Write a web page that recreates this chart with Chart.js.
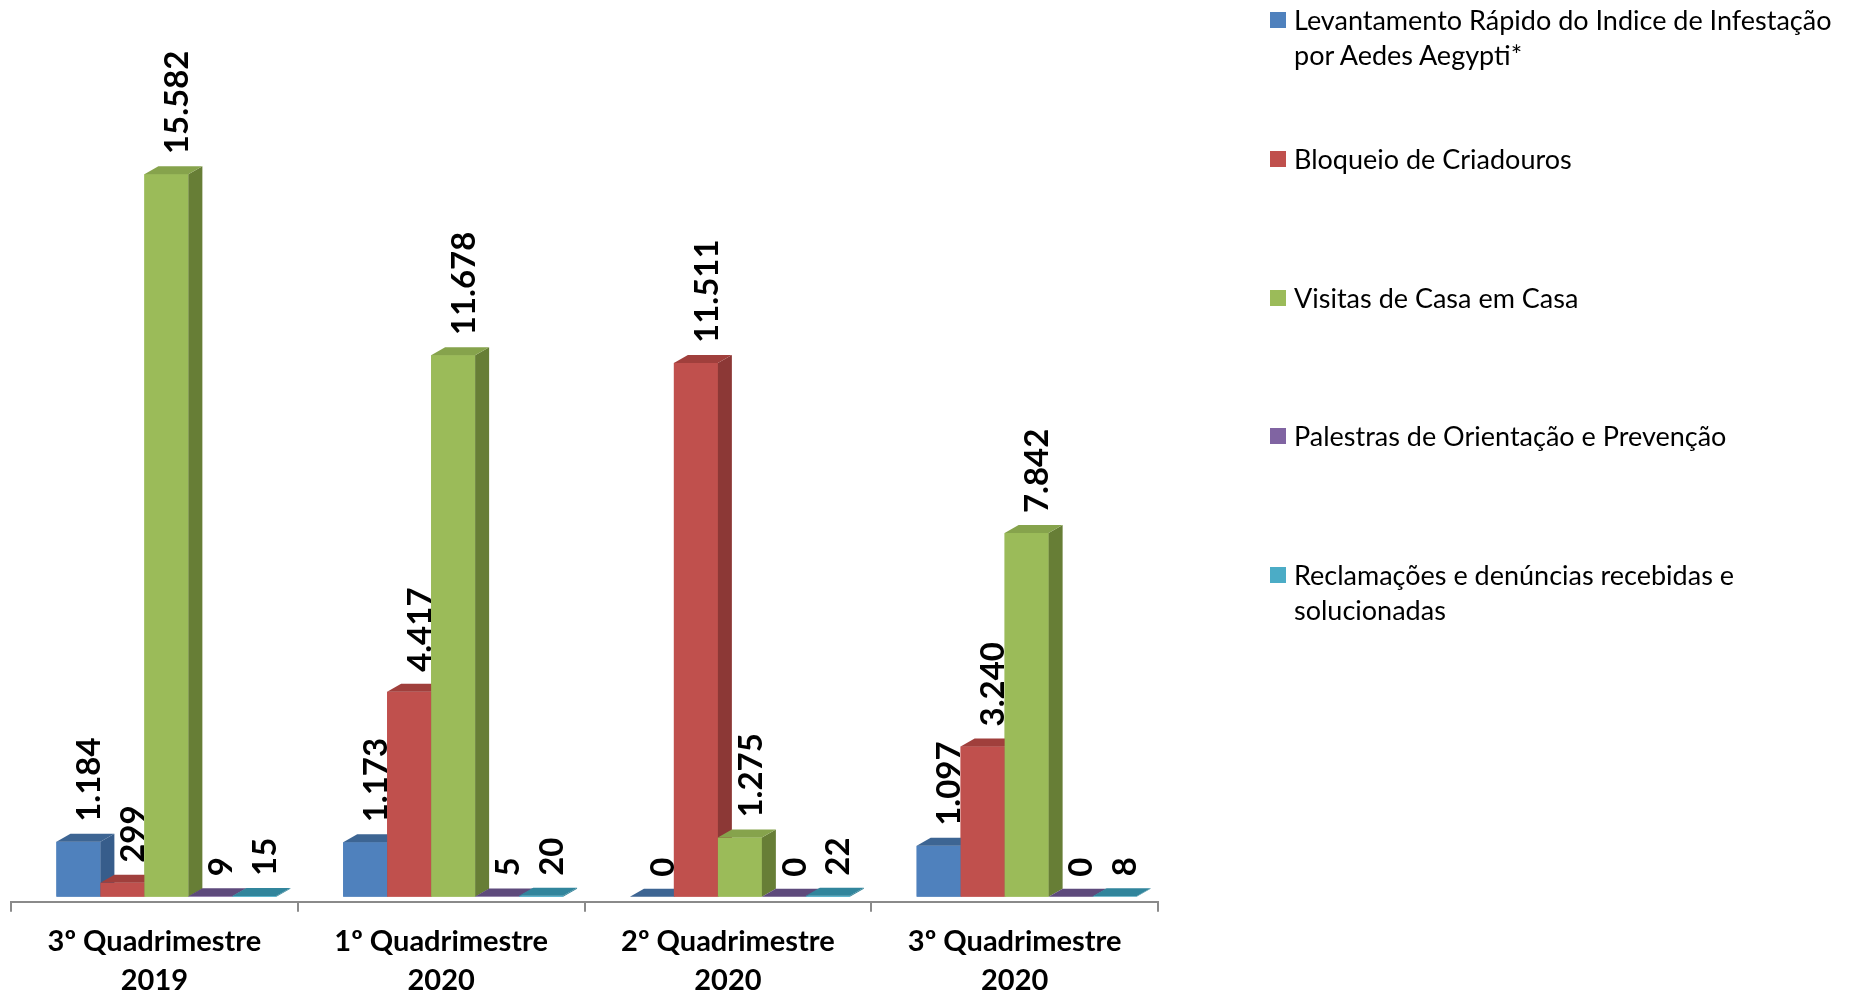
<!DOCTYPE html>
<html>
<head>
<meta charset="utf-8">
<script src="https://cdn.jsdelivr.net/npm/chart.js@4.4.0/dist/chart.umd.min.js"></script>
<style>
    html, body { margin: 0; padding: 0; background: #fff; overflow: hidden; }
    #wrap { position: relative; width: 1855px; height: 1010px; }
    #myChart { position: absolute; left: 0; top: 0; }
    #legend { position: absolute; left: 1270px; top: 2px; font-family: Lato, sans-serif; font-size: 27px; line-height: 35px; color: #000; white-space: nowrap; }
    .item { position: relative; height: 138.8px; padding-left: 24px; }
    .box { position: absolute; left: 0; top: 10px; width: 16px; height: 16px; }
</style>
</head>
<body>
<div id="wrap">
    <canvas id="myChart" width="1855" height="1010"></canvas>
    <div id="legend"></div>
</div>
<script>
var categories = [['3º Quadrimestre', '2019'], ['1º Quadrimestre', '2020'], ['2º Quadrimestre', '2020'], ['3º Quadrimestre', '2020']]
var series_names = [
    ['Levantamento Rápido do Indice de Infestação', 'por Aedes Aegypti*'],
    ['Bloqueio de Criadouros'],
    ['Visitas de Casa em Casa'],
    ['Palestras de Orientação e Prevenção'],
    ['Reclamações e denúncias recebidas e', 'solucionadas']
]
var levantamento = [1184, 1173, 0, 1097]
var bloqueio = [299, 4417, 11511, 3240]
var visitas = [15582, 11678, 1275, 7842]
var palestras = [9, 5, 0, 0]
var reclamacoes = [15, 20, 22, 8]

var front_colors = ['#4f81bd', '#c0504d', '#9bbb59', '#8064a2', '#4bacc6']
var side_colors = ['#375d8b', '#8c3836', '#677e36', '#5a4678', '#2f7f94']
var top_colors = ['#3d6593', '#a03f3c', '#86a34c', '#5e4a7c', '#31859c']

var depth_x = 14
var depth_y = 8
var shift_x = 12
var shift_y = -5

function fmt(v) {
    return String(v).replace(/\B(?=(\d{3})+(?!\d))/g, '.')
}

var bars_3d = {
    id: 'bars_3d',
    beforeDatasetsDraw: function (chart) {
        chart.ctx.save()
        chart.ctx.translate(shift_x, shift_y)
    },
    afterDatasetsDraw: function (chart) {
        let ctx = chart.ctx
        let n = chart.data.labels.length
        let m = chart.data.datasets.length
        for (let j = 0; j < n; j++) {
            for (let i = 0; i < m; i++) {
                let bar = chart.getDatasetMeta(i).data[j]
                let left = bar.x - bar.width / 2
                let right = bar.x + bar.width / 2
                let top = bar.y
                let base = bar.base

                ctx.fillStyle = front_colors[i]
                ctx.fillRect(left, top, right - left, base - top)

                ctx.fillStyle = side_colors[i]
                ctx.beginPath()
                ctx.moveTo(right, top)
                ctx.lineTo(right + depth_x, top - depth_y)
                ctx.lineTo(right + depth_x, base - depth_y)
                ctx.lineTo(right, base)
                ctx.closePath()
                ctx.fill()

                ctx.fillStyle = top_colors[i]
                ctx.beginPath()
                ctx.moveTo(left, top)
                ctx.lineTo(left + depth_x, top - depth_y)
                ctx.lineTo(right + depth_x, top - depth_y)
                ctx.lineTo(right, top)
                ctx.closePath()
                ctx.fill()
            }
        }
        // value labels
        ctx.fillStyle = '#000'
        ctx.font = 'bold 33px Lato'
        ctx.textAlign = 'left'
        ctx.textBaseline = 'middle'
        for (let i = 0; i < m; i++) {
            let meta = chart.getDatasetMeta(i)
            let values = chart.data.datasets[i].data
            for (let j = 0; j < n; j++) {
                let bar = meta.data[j]
                ctx.save()
                ctx.translate(bar.x + depth_x / 2 + 4, bar.y - depth_y - 12)
                ctx.rotate(-Math.PI / 2)
                ctx.fillText(fmt(values[j]), 0, 0)
                ctx.restore()
            }
        }
        ctx.restore()
    }
}

var html_legend = {
    id: 'html_legend',
    afterUpdate: function (chart) {
        let box = document.getElementById('legend')
        box.innerHTML = ''
        chart.data.datasets.forEach(function (ds, i) {
            let item = document.createElement('div')
            item.setAttribute('class', 'item')
            let sw = document.createElement('span')
            sw.setAttribute('class', 'box')
            sw.style.background = front_colors[i]
            item.appendChild(sw)
            let txt = document.createElement('span')
            txt.innerHTML = series_names[i].join('<br>')
            item.appendChild(txt)
            box.appendChild(item)
        })
    }
}

var all_series = [levantamento, bloqueio, visitas, palestras, reclamacoes]
var datasets = []
for (var i = 0; i < all_series.length; i++) {
    datasets.push({
        label: series_names[i].join(' '),
        data: all_series[i],
        backgroundColor: front_colors[i],
        borderWidth: 0,
        categoryPercentage: 0.767,
        barPercentage: 1
    })
}

var ctx = document.getElementById('myChart').getContext('2d')
var myBar = new Chart(ctx, {
    type: 'bar',
    data: { labels: categories, datasets: datasets },
    plugins: [bars_3d, html_legend],
    options: {
        responsive: false,
        animation: false,
        layout: { padding: { left: 11, right: 697, top: 67, bottom: 0 } },
        plugins: {
            legend: { display: false },
            tooltip: { enabled: false }
        },
        scales: {
            y: {
                display: false,
                min: 0,
                max: 18000
            },
            x: {
                border: { color: '#8a8a8a', width: 2 },
                grid: {
                    offset: true,
                    drawOnChartArea: false,
                    drawTicks: true,
                    tickLength: 10,
                    color: '#8a8a8a',
                    lineWidth: 2
                },
                ticks: {
                    color: '#000',
                    padding: 10,
                    font: { family: 'Lato', size: 29, weight: 'bold', lineHeight: 1.35 }
                }
            }
        }
    }
})
</script>
</body>
</html>
